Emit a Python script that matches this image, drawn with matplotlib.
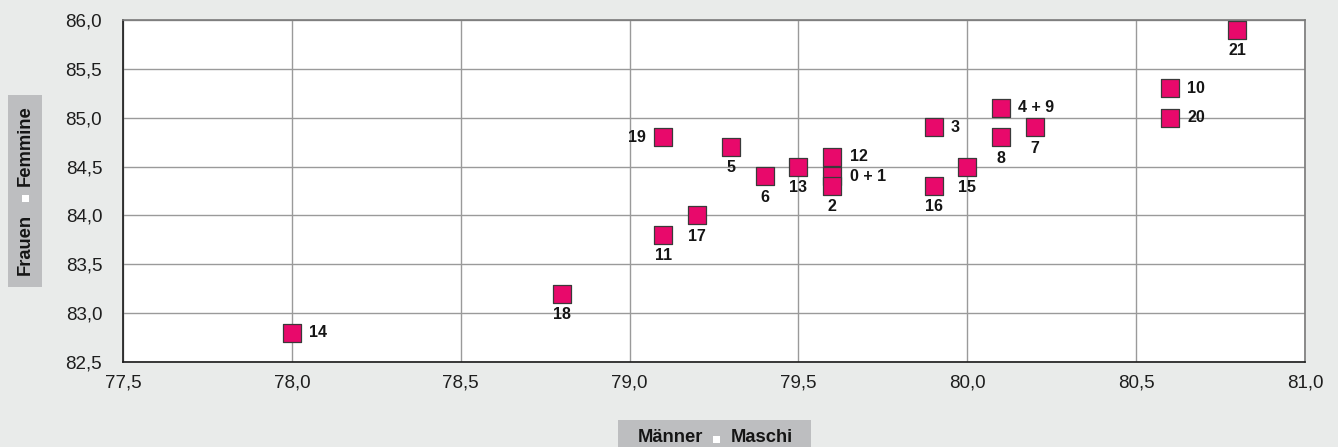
import matplotlib
matplotlib.use("Agg")
import matplotlib.pyplot as plt
from matplotlib.patches import Rectangle
from matplotlib.ticker import FuncFormatter, MultipleLocator

plt.rcParams['font.family'] = ['Liberation Sans', 'DejaVu Sans']

labels = ["14", "18", "11", "17", "19", "5", "6", "13", "12", "0 + 1", "2",
          "16", "3", "15", "4 + 9", "8", "7", "10", "20", "21"]
men = [78.0, 78.8, 79.1, 79.2, 79.1, 79.3, 79.4, 79.5, 79.6, 79.6, 79.6,
       79.9, 79.9, 80.0, 80.1, 80.1, 80.2, 80.6, 80.6, 80.8]
women = [82.8, 83.2, 83.8, 84.0, 84.8, 84.7, 84.4, 84.5, 84.6, 84.4, 84.3,
         84.3, 84.9, 84.5, 85.1, 84.8, 84.9, 85.3, 85.0, 85.9]
label_pos = ["right", "below", "below", "below", "left", "below", "below", "below",
             "right", "right", "below", "below", "right", "below", "right", "below",
             "below", "right", "right", "below"]

W, H = 1338, 447
fig = plt.figure(figsize=(W / 100, H / 100), dpi=100)
fig.patch.set_facecolor('#E9EBEA')

def fx(px):
    return px / W

def fy(py):
    return 1 - py / H

ax = fig.add_axes([fx(123), fy(362), fx(1305) - fx(123), fy(20) - fy(362)])
ax.set_facecolor('white')
ax.set_xlim(77.5, 81.0)
ax.set_ylim(82.5, 86.0)
ax.xaxis.set_major_locator(MultipleLocator(0.5))
ax.yaxis.set_major_locator(MultipleLocator(0.5))
fmt = FuncFormatter(lambda v, p: f"{v:.1f}".replace('.', ','))
ax.xaxis.set_major_formatter(fmt)
ax.yaxis.set_major_formatter(fmt)
ax.tick_params(axis='both', length=0, labelsize=13.5, colors='#1E1E1E')
ax.tick_params(axis='x', pad=9)
ax.tick_params(axis='y', pad=15)
ax.grid(True, color='#9A9A9A', linewidth=1.0)
ax.set_axisbelow(True)
for s in ['top', 'right']:
    ax.spines[s].set_color('#7A7A7A')
    ax.spines[s].set_linewidth(1.2)
for s in ['left', 'bottom']:
    ax.spines[s].set_color('#1A1A1A')
    ax.spines[s].set_linewidth(1.2)

ax.scatter(men, women, marker='s', s=165, color='#E8096B', edgecolors='#3A3A3A',
           linewidths=0.9, zorder=3, clip_on=False)

lab_kw = dict(textcoords='offset points', fontsize=11.5, fontweight='bold',
              color='#151515', zorder=4)
for lab, x, y, pos in zip(labels, men, women, label_pos):
    if pos == "right":
        ax.annotate(lab, (x, y), xytext=(12.5, 0), ha='left', va='center', **lab_kw)
    elif pos == "left":
        ax.annotate(lab, (x, y), xytext=(-12.5, 0), ha='right', va='center', **lab_kw)
    else:
        ax.annotate(lab, (x, y), xytext=(0, -15), ha='center', va='center', **lab_kw)

title_kw = dict(fontsize=13.2, fontweight='bold', color='#151515')

# y-axis title box
fig.patches.append(Rectangle((fx(8), fy(287)), fx(42) - fx(8), fy(95) - fy(287),
                             transform=fig.transFigure, facecolor='#BDBEC0', edgecolor='none'))
fig.text(fx(25), fy(244), "Frauen", rotation=90, ha='center', va='center', **title_kw)
fig.text(fx(25), fy(146), "Femmine", rotation=90, ha='center', va='center', **title_kw)
fig.patches.append(Rectangle((fx(21.5), fy(202.5)), fx(7), fy(0) - fy(7),
                             transform=fig.transFigure, facecolor='white', edgecolor='none'))

# x-axis title box
fig.patches.append(Rectangle((fx(618), fy(447)), fx(811) - fx(618), fy(420) - fy(447),
                             transform=fig.transFigure, facecolor='#BDBEC0', edgecolor='none'))
fig.text(fx(670), fy(438), "Männer", ha='center', va='center', **title_kw)
fig.text(fx(761.5), fy(438), "Maschi", ha='center', va='center', **title_kw)
fig.patches.append(Rectangle((fx(712.5), fy(442.5)), fx(7), fy(0) - fy(7),
                             transform=fig.transFigure, facecolor='white', edgecolor='none'))

fig.savefig("out.png", dpi=100, facecolor=fig.get_facecolor())
